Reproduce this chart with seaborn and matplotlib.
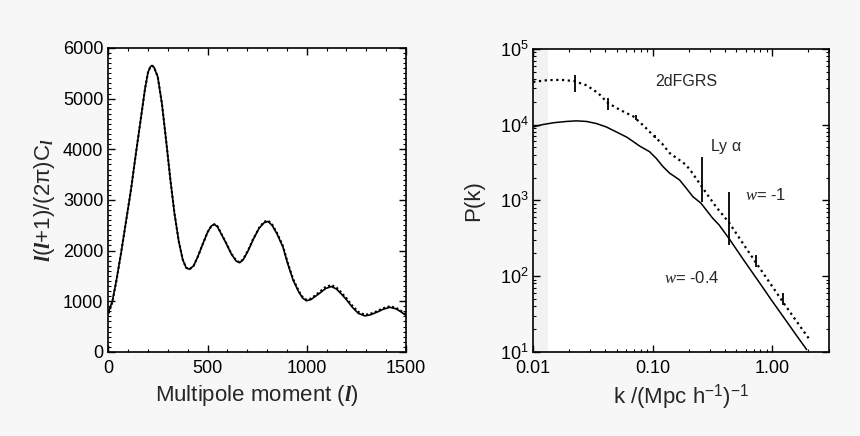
import matplotlib
matplotlib.use("Agg")
import matplotlib.pyplot as plt
import matplotlib.ticker as mticker
import pandas as pd
import seaborn as sns
import numpy as np

sns.set_style("ticks")
plt.rcParams['font.family'] = ['Liberation Sans', 'DejaVu Sans']
plt.rcParams['mathtext.fontset'] = 'custom'
plt.rcParams['mathtext.rm'] = 'Liberation Sans'
plt.rcParams['mathtext.it'] = 'Liberation Serif:italic'
plt.rcParams['mathtext.bf'] = 'Liberation Serif:italic:bold'

# CMB angular power spectrum (left)
ell = [2, 20, 40, 64, 90, 114, 140, 165, 185, 200, 212, 220, 230, 249, 270, 291,
       312, 333, 355, 375, 392, 409, 430, 451, 475, 501, 520, 535, 550, 570, 594,
       620, 645, 662, 680, 705, 729, 760, 785, 805, 825, 850, 880, 905, 931, 960,
       980, 998, 1020, 1045, 1066, 1095, 1124, 1150, 1175, 1200, 1230, 1260, 1293,
       1320, 1352, 1385, 1419, 1450, 1475, 1500]
cl_solid = [800, 1000, 1400, 1950, 2600, 3200, 3950, 4640, 5200, 5520, 5630, 5650,
            5620, 5430, 4900, 4180, 3420, 2740, 2180, 1820, 1660, 1630, 1700, 1880,
            2120, 2370, 2490, 2515, 2470, 2320, 2140, 1930, 1790, 1760, 1820, 2000,
            2210, 2440, 2550, 2575, 2500, 2330, 2070, 1730, 1420, 1180, 1060, 1010,
            1030, 1100, 1160, 1250, 1290, 1240, 1140, 1030, 880, 760, 710, 730, 780,
            840, 880, 850, 790, 720]
cl_dotted = [760, 980, 1390, 1950, 2600, 3200, 3950, 4640, 5200, 5520, 5630, 5650,
             5620, 5430, 4900, 4180, 3420, 2740, 2180, 1820, 1660, 1630, 1700, 1880,
             2120, 2370, 2490, 2520, 2480, 2330, 2150, 1940, 1800, 1770, 1830, 2010,
             2220, 2450, 2570, 2590, 2520, 2350, 2090, 1750, 1440, 1200, 1080, 1030,
             1050, 1120, 1190, 1280, 1320, 1270, 1170, 1060, 910, 790, 730, 750, 800,
             860, 900, 870, 810, 740]

# matter power spectrum (right)
k_w04 = [0.010, 0.012, 0.015, 0.019, 0.023, 0.028, 0.034, 0.041, 0.053, 0.061,
         0.078, 0.094, 0.107, 0.122, 0.139, 0.168, 0.191, 0.217, 0.254, 0.318,
         0.36, 0.438, 0.58, 0.78, 1.0, 1.31, 1.6, 1.95]
p_w04 = [9300, 10000, 10600, 11000, 11200, 11000, 10300, 9300, 7600, 6800,
         5200, 4400, 3600, 2790, 2280, 1860, 1450, 1120, 917, 582,
         474, 310, 162, 83, 47, 25.8, 16.5, 10.7]
k_w1 = [0.010, 0.013, 0.017, 0.022, 0.028, 0.035, 0.042, 0.053, 0.069, 0.085,
        0.100, 0.120, 0.139, 0.19, 0.215, 0.263, 0.338, 0.438, 0.58, 0.73, 0.95,
        1.21, 1.6, 2.07]
p_w1 = [36600, 38500, 39000, 37500, 33000, 26000, 19400, 15700, 12800, 9500,
        7330, 5600, 4200, 2950, 2300, 1450, 830, 505, 259, 152, 83,
        47.5, 25.4, 14.4]

# error bars: 2dFGRS and Ly alpha
k_err = [0.0224, 0.042, 0.072, 0.104, 0.26, 0.44, 0.73, 1.23]
p_lo = [26900, 15700, 11500, 6600, 955, 259, 132, 42]
p_hi = [45400, 22500, 13500, 7240, 3750, 1295, 190, 60]

fig = plt.figure(figsize=(8.6, 4.36), dpi=100)
fig.patch.set_facecolor('#f7f7f7')
ax1 = fig.add_axes([0.126, 0.193, 0.346, 0.697])
ax2 = fig.add_axes([0.620, 0.193, 0.344, 0.695])

cmb = pd.DataFrame({'ell': ell, 'solid': cl_solid, 'dotted': cl_dotted})
sns.lineplot(data=cmb, x='ell', y='dotted', ax=ax1, color='black', lw=1.5,
             linestyle=(0, (1, 1.2)))
sns.lineplot(data=cmb, x='ell', y='solid', ax=ax1, color='black', lw=1.2)
ax1.set_xlim(0, 1500)
ax1.set_ylim(0, 6000)
ax1.xaxis.set_major_locator(mticker.MultipleLocator(500))
ax1.xaxis.set_minor_locator(mticker.MultipleLocator(100))
ax1.yaxis.set_major_locator(mticker.MultipleLocator(1000))
ax1.yaxis.set_minor_locator(mticker.MultipleLocator(100))
ax1.set_xlabel(r'Multipole moment ($\mathbf{l}$)', fontsize=16)
ax1.set_ylabel(r'$\mathbf{l}(\mathbf{l}$+1)/(2$\mathrm{\pi}$)C$_{\mathbf{l}}$', fontsize=16)

df04 = pd.DataFrame({'k': k_w04, 'P': p_w04})
df1 = pd.DataFrame({'k': k_w1, 'P': p_w1})
ax2.axvspan(0.01, 0.0133, color='#f2f2f2', zorder=0, lw=0)
sns.lineplot(data=df1, x='k', y='P', ax=ax2, color='black', lw=1.6,
             linestyle=(0, (1, 1.6)))
sns.lineplot(data=df04, x='k', y='P', ax=ax2, color='black', lw=1.1)
ax2.vlines(k_err, p_lo, p_hi, color='black', lw=1.3)
ax2.set_xscale('log')
ax2.set_yscale('log')
ax2.set_xlim(0.01, 3)
ax2.set_ylim(10, 1e5)
ax2.xaxis.set_major_locator(mticker.FixedLocator([0.01, 0.1, 1.0]))
ax2.xaxis.set_major_formatter(mticker.FixedFormatter(['0.01', '0.10', '1.00']))
ax2.xaxis.set_minor_locator(mticker.LogLocator(base=10, subs=np.arange(2, 10)))
ax2.xaxis.set_minor_formatter(mticker.NullFormatter())
ax2.yaxis.set_major_locator(mticker.LogLocator(base=10, numticks=10))
ax2.yaxis.set_minor_locator(mticker.LogLocator(base=10, subs=np.arange(2, 10), numticks=10))
ax2.set_xlabel(r'k /(Mpc h$^{\mathrm{-1}}$)$^{\mathrm{-1}}$', fontsize=16)
ax2.set_ylabel('P(k)', fontsize=16, labelpad=11)

ax2.text(0.192, 3.66e4, '2dFGRS', fontsize=11.5, ha='center', va='center')
ax2.text(0.414, 5.08e3, r'Ly $\mathrm{\alpha}$', fontsize=11.5, ha='center', va='center')
ax2.text(0.89, 1.18e3, r'$w$= -1', fontsize=12, ha='center', va='center')
ax2.text(0.211, 95, r'$w$= -0.4', fontsize=12, ha='center', va='center')

for ax in (ax1, ax2):
    ax.set_facecolor('white')
    for s in ax.spines.values():
        s.set_linewidth(1.2)
        s.set_color('black')
    ax.tick_params(which='both', direction='in', top=True, right=True,
                   colors='black', labelsize=13)
    ax.tick_params(which='major', length=5, width=1)
    ax.tick_params(which='minor', length=2.5, width=0.8)
    ax.tick_params(axis='x', pad=6)

fig.savefig('out.png', dpi=100, facecolor=fig.get_facecolor())
